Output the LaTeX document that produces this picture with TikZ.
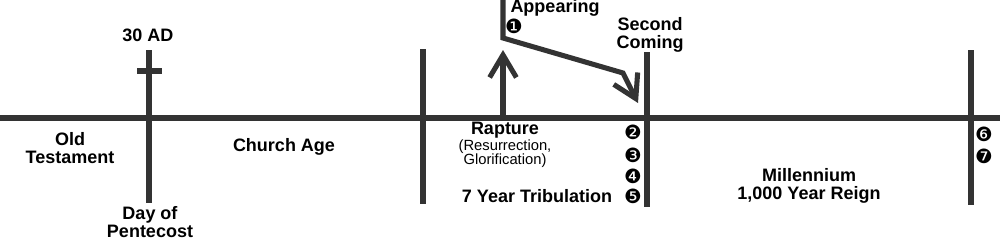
\documentclass[tikz,border=0pt]{standalone}
\usepackage{fontspec}
\setmainfont{Liberation Sans}
\newfontfamily\dingfont{DejaVu Sans}
\usetikzlibrary{arrows.meta}

\begin{document}
\begin{tikzpicture}[x=0.025cm,y=-0.025cm]
  \colorlet{LineGrey}{black!80}
  \tikzset{
    bar/.style={draw=LineGrey,line width=3.6pt},
    barb/.style={bar,-{Straight Barb[length=16pt,width=19pt]}},
    lbl/.style={font=\bfseries\fontsize{12.8}{12.8}\selectfont,align=center,inner sep=0pt},
    sub/.style={font=\fontsize{10.5}{10}\selectfont,align=center,inner sep=0pt},
    num/.style={font=\dingfont\fontsize{14}{14}\selectfont,inner sep=0pt}
  }
  \useasboundingbox (0,0) rectangle (1000,250);
  % time line
  \coordinate (west) at (0,118);
  \coordinate (east) at (1000,118);
  \draw[bar] (west) -- (east);
  % cross at 30 AD
  \coordinate (crossTop) at (149,50);
  \coordinate (crossFoot) at (149,203);
  \coordinate (armL) at (137,71);
  \coordinate (armR) at (162,71);
  \draw[bar] (crossTop) -- (crossFoot);
  \draw[bar] (armL) -- (armR);
  % dividers
  \coordinate (rapTop) at (423,49);
  \coordinate (rapFoot) at (423,204);
  \coordinate (secTop) at (647,52);
  \coordinate (secFoot) at (647,207);
  \coordinate (endTop) at (971,50);
  \coordinate (endFoot) at (971,205);
  \draw[bar] (rapTop) -- (rapFoot);
  \draw[bar] (secTop) -- (secFoot);
  \draw[bar] (endTop) -- (endFoot);
  % rapture arrow and appearing path
  \coordinate (upFoot) at (503,118);
  \coordinate (upTip) at (503,50);
  \draw[barb] (upFoot) -- (upTip);
  \coordinate (skyTop) at (503,0);
  \coordinate (skyBend) at (503,38);
  \coordinate (skyKnee) at (623,73);
  \coordinate (skyTip) at (638,103);
  \draw[barb,line join=miter] (skyTop) -- (skyBend) -- (skyKnee) -- (skyTip);
  % labels
  \node[lbl] (ad) at (148,35) {30 AD};
  \node[lbl] (ot) at (70,148) {Old\\Testament};
  \node[lbl] (pent) at (150,222) {Day of\\Pentecost};
  \node[lbl] (church) at (284,147) {Church Age};
  \node[lbl] (appear) at (555,8) {Appearing};
  \node[num] (n1) at (514,26) {❶};
  \node[lbl] (second) at (650,35) {Second\\Coming};
  \node[lbl] (rapture) at (505,130) {Rapture};
  \node[sub] (glor) at (505,154) {(Resurrection,\\Glorification)};
  \node[lbl] (trib) at (537,196) {7 Year Tribulation};
  \node[num] (n2) at (633,132) {❷};
  \node[num] (n3) at (633,155) {❸};
  \node[num] (n4) at (633,176) {❹};
  \node[num] (n5) at (633,196) {❺};
  \node[lbl] (mill) at (809,186) {Millennium\\1,000 Year Reign};
  \node[num] (n6) at (984,134) {❻};
  \node[num] (n7) at (984,156) {❼};
\end{tikzpicture}
\end{document}
